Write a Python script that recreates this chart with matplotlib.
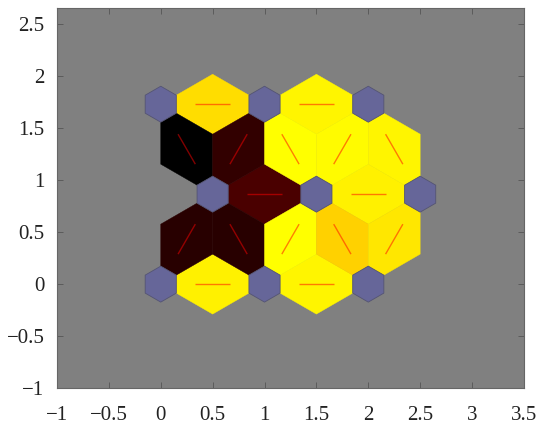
import numpy as np
import matplotlib.pyplot as plt
from matplotlib.collections import PolyCollection, LineCollection
from matplotlib.colors import LinearSegmentedColormap

# 3x3 hexagonal SOM layout
grid_cols = 3
grid_rows = 3

# neighbour pairs (neuron indices, row-major) and their weight distance (0 = close, 1 = far)
pair_i = [0, 1, 3, 4, 6, 7, 0, 1, 1, 2, 2, 3, 3, 4, 4, 5]
pair_j = [1, 2, 4, 5, 7, 8, 3, 3, 4, 4, 5, 6, 7, 7, 8, 8]
pair_dist = [0.03, 0.02, 0.855, 0.03, 0.07, 0.02,
             0.92, 0.92, 0.0, 0.09, 0.05, 1.0, 0.90, 0.0, 0.01, 0.02]

x_ticks = [-1, -0.5, 0, 0.5, 1, 1.5, 2, 2.5, 3, 3.5]
x_labels = ['\u22121', '\u22120.5', '0', '0.5', '1', '1.5', '2', '2.5', '3', '3.5']
y_ticks = [-1, -0.5, 0, 0.5, 1, 1.5, 2, 2.5]
y_labels = ['\u22121', '\u22120.5', '0', '0.5', '1', '1.5', '2', '2.5']

# neuron positions (hextop)
pos = []
for r in range(grid_rows):
    for c in range(grid_cols):
        pos.append((c + 0.5 * (r % 2), r * np.sqrt(3) / 2))
pos = np.array(pos)

R = 0.3 / np.sqrt(3)          # neuron hexagon circumradius
h = 1 / (2 * np.sqrt(3))      # triangle centroid offset


def unit(a):
    return np.array([np.cos(a), np.sin(a)])


# neighbour patches
patches = []
segs = []
for i, j in zip(pair_i, pair_j):
    pi, pj = pos[i], pos[j]
    d = pj - pi
    th = np.arctan2(d[1], d[0])
    mid = (pi + pj) / 2
    perp = np.array([-d[1], d[0]])
    verts = [pi + R * unit(th - np.pi / 6),
             pi + R * unit(th + np.pi / 6),
             mid + perp * h,
             pj + R * unit(th + 5 * np.pi / 6),
             pj + R * unit(th + 7 * np.pi / 6),
             mid - perp * h]
    patches.append(verts)
    segs.append([pi + d / 3, pi + 2 * d / 3])

# neuron hexagons
angles = np.pi / 6 + np.arange(6) * np.pi / 3
neurons = [[p + R * unit(a) for a in angles] for p in pos]

cmap = LinearSegmentedColormap.from_list('nd', ['#ffff00', '#ff0000', '#000000'])

fig = plt.figure(figsize=(5.5, 4.34), dpi=100)
ax = fig.add_axes([0.1036, 0.106, 0.849, 0.876])
ax.set_facecolor('#808080')

pc = PolyCollection(patches, cmap=cmap, edgecolors='face', linewidths=0.3)
pc.set_array(np.array(pair_dist))
pc.set_clim(0, 1)
ax.add_collection(pc)

ax.add_collection(LineCollection(segs, colors='red', alpha=0.5, linewidths=1.0))

ax.add_collection(PolyCollection(neurons, facecolors=(0.4, 0.4, 0.6),
                                 edgecolors=(0.33, 0.33, 0.45), linewidths=0.6))

ax.set_xlim(-1, 3.5)
ax.set_ylim(-1, 2.66)
ax.set_xticks(x_ticks)
ax.set_xticklabels(x_labels)
ax.set_yticks(y_ticks)
ax.set_yticklabels(y_labels)

for lab in ax.get_xticklabels() + ax.get_yticklabels():
    lab.set_fontfamily('Liberation Serif')
    lab.set_fontsize(15)
    lab.set_color('#222222')

ax.tick_params(direction='in', length=4, width=0.6, color='#555555',
               top=True, right=True)
ax.tick_params(axis='x', pad=13)
ax.tick_params(axis='y', pad=9)
for s in ax.spines.values():
    s.set_color('#666666')
    s.set_linewidth(0.8)

fig.savefig('out.png')
